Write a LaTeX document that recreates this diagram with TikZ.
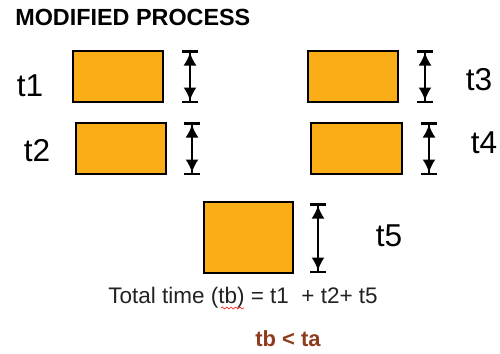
\documentclass[tikz,border=0pt]{standalone}
\usepackage{fontspec}
\setmainfont{Liberation Sans}
\usepackage{xcolor}
\usetikzlibrary{arrows.meta,decorations.pathmorphing}

\definecolor{procorange}{HTML}{FBAD18}
\definecolor{resultbrown}{HTML}{8E3B1F}
\definecolor{textgray}{HTML}{222222}

\begin{document}
\begin{tikzpicture}[x=0.02cm, y=-0.02cm,
	proc/.style={rectangle, draw, fill=procorange, line width=0.05cm, inner sep=0pt},
	span/.style={line width=0.04cm, {Bar[width=0.32cm,line width=0.05cm]Latex[length=0.26cm,width=0.26cm]}-{Latex[length=0.26cm,width=0.26cm]Bar[width=0.32cm,line width=0.05cm]}},
	tlabel/.style={inner sep=0pt, font=\fontsize{18}{20}\selectfont}]
	\useasboundingbox (0,0) rectangle (500,353);

	\node[anchor=base west, inner sep=0pt, font=\fontsize{13.3}{15}\selectfont\bfseries] (title) at (15,25) {MODIFIED PROCESS};

	% process boxes
	\node[proc, minimum width=1.8cm, minimum height=1.02cm] (p1) at (118,76.5) {};
	\node[proc, minimum width=1.8cm, minimum height=1.02cm] (p2) at (121,148.5) {};
	\node[proc, minimum width=1.8cm, minimum height=1.02cm] (p3) at (353,76.5) {};
	\node[proc, minimum width=1.82cm, minimum height=1.02cm] (p4) at (356.5,148.5) {};
	\node[proc, minimum width=1.78cm, minimum height=1.42cm] (p5) at (248.5,237.5) {};

	% time labels
	\node[tlabel] (t1) at (30,86) {t1};
	\node[tlabel] (t2) at (37,151) {t2};
	\node[tlabel] (t3) at (479,80) {t3};
	\node[tlabel] (t4) at (484,143) {t4};
	\node[tlabel] (t5) at (389,236) {t5};

	% span arrows
	\coordinate (a1) at (190,50);  \coordinate (b1) at (190,103);
	\coordinate (a2) at (192,122); \coordinate (b2) at (192,175);
	\coordinate (a3) at (425,50);  \coordinate (b3) at (425,103);
	\coordinate (a4) at (429,122); \coordinate (b4) at (429,175);
	\coordinate (a5) at (318,203); \coordinate (b5) at (318,273);
	\draw[span] (a1) -- (b1);
	\draw[span] (a2) -- (b2);
	\draw[span] (a3) -- (b3);
	\draw[span] (a4) -- (b4);
	\draw[span] (a5) -- (b5);

	% totals
	\node[anchor=base west, inner sep=0pt, text=textgray, font=\fontsize{12.8}{14}\selectfont] (total) at (108,303) {Total time (tb) = t1\ \ + t2+ t5};
	\draw[red, line width=0.3pt, decorate, decoration={snake, amplitude=0.6pt, segment length=2.5pt}] (221,308) -- (244,308);
	\node[anchor=base west, inner sep=0pt, text=resultbrown, font=\fontsize{12.5}{14}\selectfont\bfseries] (cmp) at (255,346) {tb < ta};
\end{tikzpicture}
\end{document}
